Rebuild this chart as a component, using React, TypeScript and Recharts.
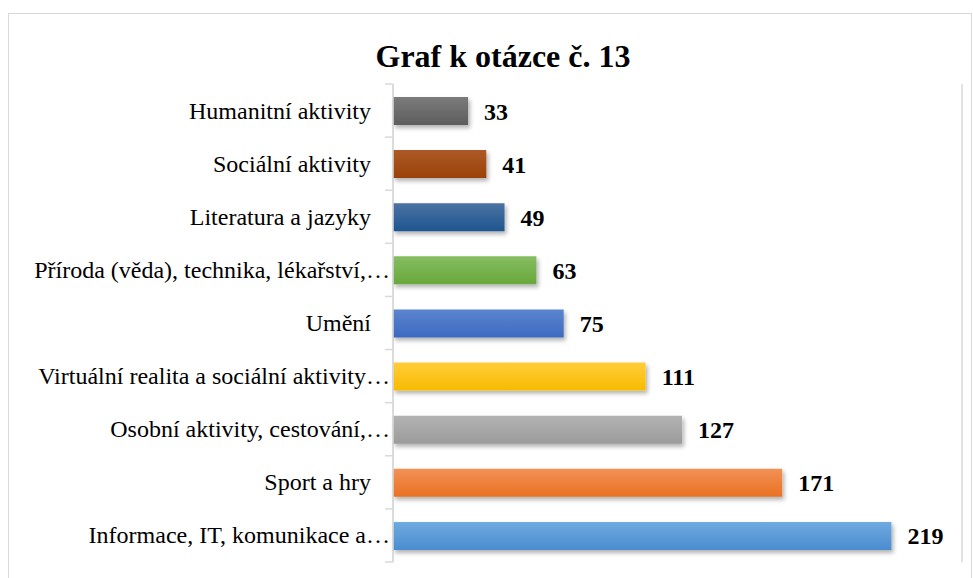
import React from 'react';
import { BarChart, Bar, XAxis, YAxis, CartesianGrid, Cell, LabelList } from 'recharts';

const categories = [
  'Humanitní aktivity',
  'Sociální aktivity',
  'Literatura a jazyky',
  'Příroda (věda), technika, lékařství,…',
  'Umění',
  'Virtuální realita a sociální aktivity…',
  'Osobní aktivity, cestování,…',
  'Sport a hry',
  'Informace, IT, komunikace a…',
];
const counts = [33, 41, 49, 63, 75, 111, 127, 171, 219];
const xTicks = [0, 50, 100, 150, 200, 250];

// top / bottom shades of each bar gradient
const palette = [
  ['#7b7b7b', '#5d5d5d'],
  ['#ad5a28', '#9a4108'],
  ['#4a73a3', '#1f5590'],
  ['#86bd62', '#68a83c'],
  ['#5c85cf', '#3c6ac0'],
  ['#ffcd3a', '#f8bb00'],
  ['#b3b3b3', '#9b9b9b'],
  ['#f29156', '#ea7122'],
  ['#70aae0', '#4a8dd0'],
];

const data = categories.map((name, i) => ({ name, value: counts[i] }));

const W = 973;
const H = 578;
const margin = { top: 84, right: 11, bottom: 16, left: 0 };
const Y_AXIS_W = 393;
const band = (H - margin.top - margin.bottom) / categories.length;
const serif = '"Liberation Serif", "Times New Roman", serif';

const CategoryTick = (props: any) => {
  const { y, payload, index } = props;
  const axisX = margin.left + Y_AXIS_W;
  // cut-off labels let the ellipsis run up to the axis, like Excel does
  const clipped = String(payload.value).endsWith('…');
  return (
    <g>
      {index === 0 && (
        <line x1={axisX - 8} x2={axisX} y1={y - band / 2} y2={y - band / 2} stroke="#d9d9d9" strokeWidth={1.5} />
      )}
      <line x1={axisX - 8} x2={axisX} y1={y + band / 2} y2={y + band / 2} stroke="#d9d9d9" strokeWidth={1.5} />
      <text
        x={clipped ? axisX - 3 : axisX - 22}
        y={y}
        dy={8}
        textAnchor="end"
        fontSize={24}
        fontFamily={serif}
        fill="#000"
      >
        {payload.value}
      </text>
    </g>
  );
};

export default function App() {
  return (
    <div style={{ position: 'absolute', left: 0, top: 0, width: W, height: H, overflow: 'hidden', background: '#fff' }}>
      <div
        style={{
          position: 'absolute',
          left: 8,
          top: 13,
          width: 964,
          height: 600,
          border: '1.5px solid #d9d9d9',
          boxSizing: 'border-box',
        }}
      />
      <div
        style={{
          position: 'absolute',
          left: 303,
          top: 36,
          width: 400,
          height: 40,
          lineHeight: '40px',
          textAlign: 'center',
          fontFamily: serif,
          fontWeight: 'bold',
          fontSize: 32,
          color: '#000',
        }}
      >
        Graf k otázce č. 13
      </div>
      <div style={{ position: 'absolute', left: 0, top: 0 }}>
        <BarChart width={W} height={H} data={data} layout="vertical" margin={margin}>
          <defs>
            {palette.map(([top, bottom], i) => (
              <linearGradient key={i} id={`grad${i}`} x1="0" y1="0" x2="0" y2="1">
                <stop offset="0%" stopColor={top} />
                <stop offset="100%" stopColor={bottom} />
              </linearGradient>
            ))}
            <filter id="barShadow" x="-5%" y="-20%" width="115%" height="160%">
              <feDropShadow dx="2" dy="3" stdDeviation="2" floodColor="#000" floodOpacity="0.3" />
            </filter>
          </defs>
          <CartesianGrid horizontal={false} stroke="#d9d9d9" strokeWidth={1.5} />
          <XAxis
            type="number"
            domain={[0, 250]}
            ticks={xTicks}
            tick={false}
            axisLine={false}
            tickLine={false}
            height={0}
          />
          <YAxis
            type="category"
            dataKey="name"
            width={Y_AXIS_W}
            axisLine={{ stroke: '#d9d9d9', strokeWidth: 1.5 }}
            tickLine={false}
            tick={<CategoryTick />}
            interval={0}
          />
          <Bar dataKey="value" barSize={28} isAnimationActive={false}>
            {data.map((d, i) => (
              <Cell key={d.name} fill={`url(#grad${i})`} filter="url(#barShadow)" />
            ))}
            <LabelList
              dataKey="value"
              position="right"
              offset={16}
              fill="#000"
              fontSize={24}
              fontWeight="bold"
              fontFamily={serif}
            />
          </Bar>
        </BarChart>
      </div>
    </div>
  );
}
